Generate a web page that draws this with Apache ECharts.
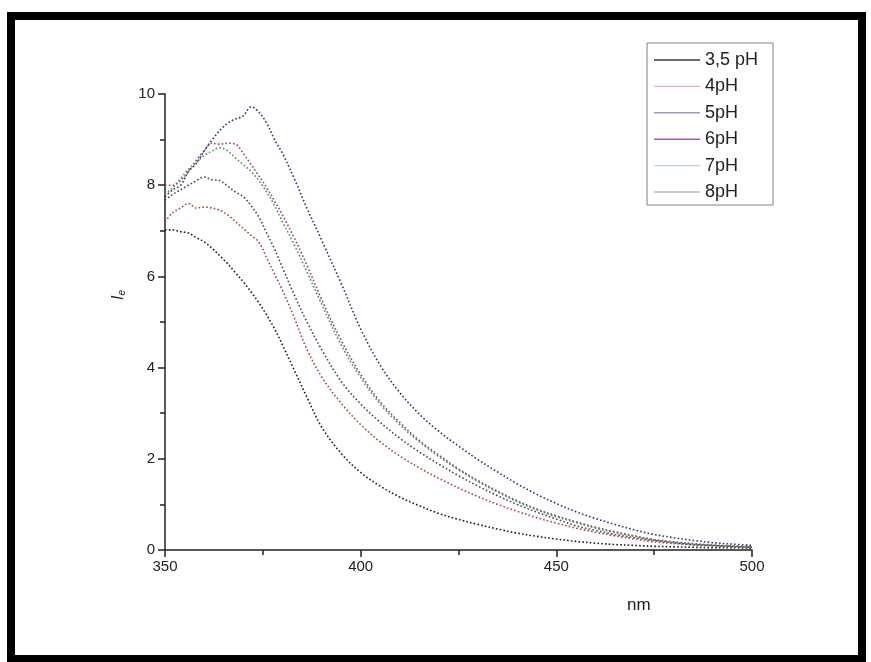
<!DOCTYPE html>
<html>
<head>
<meta charset="utf-8">
<script src="https://cdn.jsdelivr.net/npm/echarts@6/dist/echarts.min.js"></script>
<style>
html,body{margin:0;padding:0;background:#fff;}
#chart{width:871px;height:662px;}
</style>
</head>
<body>
<div id="chart"></div>
<script>
// wavelengths (nm)
const wavelengths = [350,352,354,356,358,360,362,364,366,368,370,372,374,376,378,380,383,386,390,395,400,405,410,415,420,425,430,435,440,445,450,455,460,465,470,475,480,485,490,495,500];

const seriesNames = ['3,5 pH','4pH','5pH','6pH','7pH','8pH'];

const ph35 = [7.02,7.02,6.98,6.95,6.85,6.76,6.62,6.45,6.28,6.08,5.88,5.66,5.42,5.15,4.85,4.5,3.95,3.4,2.7,2.12,1.7,1.4,1.16,0.97,0.8,0.67,0.56,0.46,0.37,0.3,0.24,0.19,0.15,0.12,0.1,0.08,0.07,0.06,0.05,0.05,0.04];
const ph4 = [7.2,7.4,7.5,7.6,7.5,7.52,7.5,7.45,7.35,7.2,7.05,6.9,6.75,6.4,6.05,5.7,5.1,4.45,3.8,3.22,2.75,2.37,2.06,1.8,1.57,1.36,1.17,1.0,0.85,0.71,0.59,0.48,0.39,0.31,0.24,0.18,0.14,0.11,0.09,0.07,0.06];
const ph5 = [7.75,7.9,8.0,8.3,8.48,8.75,8.99,9.2,9.36,9.45,9.52,9.72,9.6,9.36,9.0,8.7,8.15,7.55,6.8,5.85,4.85,4.05,3.45,2.98,2.6,2.28,1.98,1.71,1.45,1.22,1.02,0.84,0.69,0.56,0.44,0.34,0.27,0.21,0.16,0.13,0.1];
const ph6 = [8.0,8.0,8.1,8.3,8.55,8.75,8.92,8.9,8.92,8.9,8.7,8.45,8.2,7.95,7.65,7.35,6.85,6.3,5.5,4.6,3.85,3.25,2.8,2.4,2.08,1.78,1.52,1.29,1.08,0.9,0.75,0.62,0.5,0.4,0.31,0.23,0.18,0.14,0.11,0.09,0.07];
const ph7 = [7.8,7.95,8.15,8.35,8.5,8.65,8.75,8.82,8.75,8.6,8.45,8.3,8.1,7.85,7.55,7.2,6.7,6.15,5.4,4.5,3.78,3.2,2.75,2.37,2.05,1.76,1.5,1.27,1.06,0.88,0.73,0.6,0.48,0.38,0.3,0.22,0.17,0.13,0.1,0.08,0.07];
const ph8 = [7.67,7.8,7.9,8.0,8.1,8.18,8.12,8.1,7.98,7.85,7.75,7.55,7.3,6.95,6.6,6.2,5.6,5.05,4.4,3.7,3.2,2.8,2.45,2.15,1.88,1.63,1.4,1.19,1.0,0.83,0.68,0.53,0.43,0.34,0.27,0.21,0.16,0.12,0.1,0.08,0.06];

const yTicks = [0,2,4,6,8,10];
const xTicks = [350,400,450,500];

const allValues = [ph35, ph4, ph5, ph6, ph7, ph8];
const lineColors = ['#1e1e1e','#b0463e','#33337a','#9a3a96','#3e9a48','#484858'];
const legendColors = ['#3a3a3a','#f0a8b4','#9a9ac8','#a860a8','#b8dcb8','#b8b8b8'];

const chart = echarts.init(document.getElementById('chart'), null, {renderer:'canvas'});

const series = seriesNames.map((name, i) => ({
  name: name,
  type: 'line',
  data: wavelengths.map((w, j) => [w, allValues[i][j]]),
  showSymbol: false,
  symbol: 'none',
  smooth: 0.35,
  lineStyle: {color: lineColors[i], width: 1.6, type: [1.6, 2.2]},
  itemStyle: {color: lineColors[i]},
  z: 2 + i,
  animation: false
}));

const font = 'Liberation Sans, Arial, sans-serif';

chart.setOption({
  animation: false,
  backgroundColor: '#fff',
  grid: {left: 165, right: 119, top: 94, bottom: 112, containLabel: false},
  xAxis: {
    type: 'value',
    min: 350, max: 500, interval: 50,
    axisLine: {show: true, onZero: false, lineStyle: {color: '#222', width: 1.5}},
    axisTick: {show: true, inside: false, length: 7, lineStyle: {color: '#222', width: 1.5}},
    minorTick: {show: true, splitNumber: 2, length: 5, lineStyle: {color: '#222', width: 1.5}},
    splitLine: {show: false},
    axisLabel: {color: '#222', fontFamily: font, fontSize: 15, margin: 9,
      formatter: v => xTicks.includes(v) ? String(v) : ''}
  },
  yAxis: {
    type: 'value',
    min: 0, max: 10, interval: 2,
    axisLine: {show: true, onZero: false, lineStyle: {color: '#222', width: 1.5}},
    axisTick: {show: true, inside: false, length: 7, lineStyle: {color: '#222', width: 1.5}},
    minorTick: {show: true, splitNumber: 2, length: 5, lineStyle: {color: '#222', width: 1.5}},
    splitLine: {show: false},
    axisLabel: {color: '#222', fontFamily: font, fontSize: 15, margin: 10,
      formatter: v => yTicks.includes(v) ? String(v) : ''},
    name: '{i|I}{s|e}',
    nameLocation: 'middle',
    nameGap: 38,
    nameRotate: 90,
    nameTextStyle: {
      padding: [0, 0, 0, 54],
      rich: {
        i: {fontFamily: font, fontSize: 16, fontStyle: 'italic', color: '#222'},
        s: {fontFamily: font, fontSize: 10, fontStyle: 'italic', color: '#222', verticalAlign: 'bottom', padding: [6,0,0,0]}
      }
    }
  },
  legend: {
    show: true,
    orient: 'vertical',
    left: 647, top: 43,
    padding: [8, 15, 4, 7],
    itemWidth: 46, itemHeight: 14, itemGap: 8.4,
    borderColor: '#808080', borderWidth: 1, borderRadius: 0,
    backgroundColor: '#fff',
    textStyle: {color: '#222', fontFamily: font, fontSize: 18},
    data: seriesNames.map((n, i) => ({
      name: n,
      icon: 'path://M0,0L46,0L46,1.4L0,1.4Z',
      itemStyle: {color: legendColors[i]}
    }))
  },
  graphic: [
    {type: 'text', left: 627, top: 597, style: {text: 'nm', fontFamily: font, fontSize: 17, fill: '#222'}},
    {type: 'rect', shape: {x: 11, y: 16, width: 851, height: 643}, style: {fill: 'none', stroke: '#000', lineWidth: 8}, z: 100}
  ],
  series: series
});
</script>
</body>
</html>
